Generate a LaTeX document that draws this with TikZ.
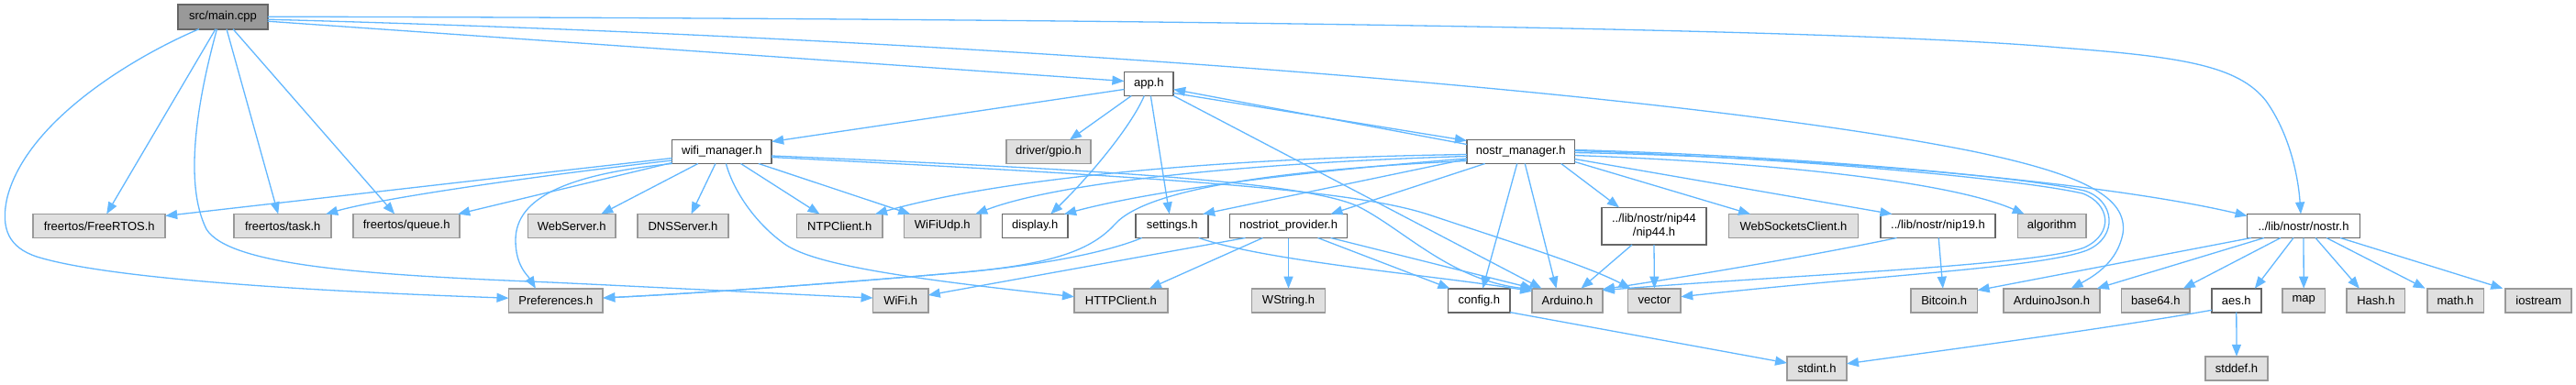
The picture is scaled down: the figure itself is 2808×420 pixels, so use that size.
\documentclass[tikz,border=0pt]{standalone}
\usepackage{fontspec}
\setmainfont{Liberation Sans}
\usetikzlibrary{arrows.meta}
\definecolor{edgec}{HTML}{63B8FF}
\definecolor{extfill}{HTML}{E0E0E0}
\definecolor{extdraw}{HTML}{999999}
\definecolor{intdraw}{HTML}{666666}
\definecolor{rootfill}{HTML}{999999}
\begin{document}
\begin{tikzpicture}[x=1pt,y=-1pt,
  box/.style={rectangle, inner sep=0pt, outer sep=0pt, minimum height=26pt, line width=1.7pt, font=\fontsize{13}{15}\selectfont, text=black, align=center},
  ext/.style={box, draw=extdraw, fill=extfill},
  int/.style={box, draw=intdraw, fill=white},
  root/.style={box, draw=intdraw, fill=rootfill},
  edge/.style={draw=edgec, line width=1.3pt, -{Triangle[length=13pt,width=10pt]}},
]
\useasboundingbox[fill=white] (0,0) rectangle (2808,420);

% row 0 - 2
\node[root, minimum width=97.5pt, minimum height=27pt] (main) at (243,18.2) {src/main.cpp};
\node[int, minimum width=53.8pt] (app) at (1252.3,91.5) {app.h};
\node[int, minimum width=108.6pt] (wifi) at (786.9,165.5) {wifi\_manager.h};
\node[ext, minimum width=92.4pt] (gpio) at (1143,165.5) {driver/gpio.h};
\node[int, minimum width=117.6pt] (nmgr) at (1657.7,165.5) {nostr\_manager.h};
% row 3
\node[ext, minimum width=144pt] (freertos) at (108.2,246.5) {freertos/FreeRTOS.h};
\node[ext, minimum width=106pt] (task) at (308.2,246.5) {freertos/task.h};
\node[ext, minimum width=115.8pt] (queue) at (443.2,246.5) {freertos/queue.h};
\node[ext, minimum width=95.7pt] (websrv) at (623.2,246.5) {WebServer.h};
\node[ext, minimum width=98.9pt] (dns) at (744.5,246.5) {DNSServer.h};
\node[ext, minimum width=93.6pt] (ntp) at (915.2,246.5) {NTPClient.h};
\node[ext, minimum width=83.9pt] (udp) at (1027.3,246.5) {WiFiUdp.h};
\node[int, minimum width=71.6pt] (display) at (1128.3,246.5) {display.h};
\node[int, minimum width=78.9pt] (settings) at (1277.7,246.5) {settings.h};
\node[int, minimum width=128pt] (provider) at (1404.5,246.5) {nostriot\_provider.h};
\node[int, minimum width=114.3pt, minimum height=40.7pt] (nip44) at (1803,246.7) {../lib/nostr/nip44\\/nip44.h};
\node[ext, minimum width=140.8pt] (wsc) at (1955,246.5) {WebSocketsClient.h};
\node[int, minimum width=125.4pt] (nip19) at (2112.5,246.5) {../lib/nostr/nip19.h};
\node[ext, minimum width=74.7pt] (algo) at (2236.7,246.5) {algorithm};
\node[int, minimum width=122.9pt] (nostr) at (2511,246.5) {../lib/nostr/nostr.h};
% row 4
\node[ext, minimum width=102.8pt] (prefs) at (605.9,327.7) {Preferences.h};
\node[ext, minimum width=60.2pt] (wifih) at (981.7,327.7) {WiFi.h};
\node[ext, minimum width=101.8pt] (http) at (1221.9,327.7) {HTTPClient.h};
\node[ext, minimum width=80pt] (wstring) at (1404.5,327.7) {WString.h};
\node[int, minimum width=67.7pt] (config) at (1612.3,327.7) {config.h};
\node[ext, minimum width=76.7pt] (arduino) at (1708.5,327.7) {Arduino.h};
\node[ext, minimum width=57.7pt] (vector) at (1803.4,327.7) {vector};
\node[ext, minimum width=72.8pt] (bitcoin) at (2119.2,327.7) {Bitcoin.h};
\node[ext, minimum width=104.5pt] (ajson) at (2236.5,327.7) {ArduinoJson.h};
\node[ext, minimum width=74.9pt] (base64) at (2349.8,327.7) {base64.h};
\node[int, minimum width=53.8pt] (aes) at (2437.8,327.7) {aes.h};
\node[ext, minimum width=46.6pt] (map) at (2511.2,327.7) {map};
\node[ext, minimum width=63.4pt] (hash) at (2589.9,327.7) {Hash.h};
\node[ext, minimum width=61.7pt] (math) at (2676.5,327.7) {math.h};
\node[ext, minimum width=72pt] (iostream) at (2767.3,327.7) {iostream};
% row 5
\node[ext, minimum width=64.9pt] (stdint) at (1980.5,401.8) {stdint.h};
\node[ext, minimum width=68.5pt] (stddef) at (2438,401.8) {stddef.h};

% ---- edges from main
\draw[edge] ([xshift=-8pt]main.south) -- ([xshift=8pt]freertos.north);
\draw[edge] ([xshift=4pt]main.south) -- ([xshift=-5pt]task.north);
\draw[edge] ([xshift=11pt]main.south) -- ([xshift=-13pt]queue.north);
\draw[edge] ([xshift=-26pt]main.south) .. controls (150,60) and (30,130) .. (8,215) .. controls (0,250) and (10,270) .. (40,280) .. controls (120,305) and (350,318) .. ([yshift=2.5pt]prefs.west);
\draw[edge] ([xshift=-6.5pt]main.south) .. controls (215,110) and (200,200) .. (225,250) .. controls (250,290) and (400,300) .. (600,308) .. controls (750,315) and (880,322) .. ([yshift=2.7pt]wifih.west);
\draw[edge] ([yshift=-5pt]main.east) -- ([yshift=3pt]app.west);
\draw[edge] (main.east) .. controls (1200,20) and (2000,30) .. (2246,52) .. controls (2380,62) and (2440,72) .. (2470,110) .. controls (2495,145) and (2505,190) .. ([xshift=-3pt]nostr.north);
\draw[edge] ([yshift=-3pt]main.east) .. controls (1000,40) and (1800,95) .. (2150,165) .. controls (2270,190) and (2320,215) .. (2314,255) .. controls (2308,285) and (2285,300) .. ([xshift=21pt]ajson.north);

% ---- edges from app
\draw[edge] ([yshift=-6pt]app.west) -- ([yshift=11pt]wifi.east);
\draw[edge] ([xshift=-19pt]app.south) -- ([xshift=23pt]gpio.north);
\draw[edge] ([xshift=-5pt]app.south) .. controls (1232,140) and (1185,195) .. ([xshift=17pt]display.north);
\draw[edge] ([xshift=2pt]app.south) -- ([xshift=-3pt]settings.north);
\draw[edge] ([yshift=-10pt]app.east) -- ([yshift=12pt]nmgr.west);
\draw[edge] ([yshift=8pt]nmgr.west) -- ([yshift=-6pt]app.east);
\draw[edge] (app.south east) -- ([xshift=-28pt]arduino.north);

% ---- edges from wifi_manager
\draw[edge] ([yshift=-7pt]wifi.west) -- ([yshift=11pt]freertos.east);
\draw[edge] ([yshift=-9.5pt]wifi.west) .. controls (600,190) and (420,215) .. ([xshift=47pt]task.north);
\draw[edge] ([yshift=-12pt]wifi.west) -- ([xshift=56pt]queue.north);
\draw[edge] (wifi.south west) .. controls (620,190) and (562,215) .. (562,262) .. controls (562,290) and (575,300) .. ([xshift=-22pt]prefs.north);
\draw[edge] ([xshift=-26pt]wifi.south) -- ([xshift=32pt]websrv.north);
\draw[edge] ([xshift=-7pt]wifi.south) -- ([xshift=9pt]dns.north);
\draw[edge] ([xshift=20.6pt]wifi.south) -- ([xshift=-21.7pt]ntp.north);
\draw[edge] ([xshift=40pt]wifi.south) -- ([xshift=-35pt]udp.north);
\draw[edge] ([xshift=4.5pt]wifi.south) .. controls (800,210) and (825,245) .. (856,266.7) .. controls (890,290) and (1000,305) .. ([yshift=4pt]http.west);
\draw[edge] ([yshift=-4.5pt]wifi.east) .. controls (1200,185) and (1420,198) .. (1480,225) .. controls (1530,250) and (1580,305) .. ([yshift=12pt]arduino.west);
\draw[edge] ([yshift=-6pt]wifi.east) .. controls (1300,195) and (1480,208) .. (1560,235) .. controls (1650,265) and (1730,290) .. ([xshift=3pt]vector.north west);

% ---- edges from nostr_manager
\draw[edge] ([yshift=-3pt]nmgr.west) .. controls (1350,172) and (1100,192) .. ([xshift=-8pt]ntp.north east);
\draw[edge] ([yshift=-5pt]nmgr.west) .. controls (1350,178) and (1150,200) .. ([xshift=-6pt]udp.north east);
\draw[edge] ([yshift=-7.5pt]nmgr.west) .. controls (1380,190) and (1240,212) .. ([xshift=-4pt]display.north east);
\draw[edge] ([yshift=-10pt]nmgr.west) .. controls (1400,185) and (1250,205) .. (1215,245) .. controls (1190,272) and (1150,288) .. (1050,297) .. controls (900,310) and (760,320) .. ([yshift=2.7pt]prefs.east);
\draw[edge] ([yshift=-8pt]nmgr.west) -- ([xshift=-6pt]settings.north east);
\draw[edge] ([xshift=-39pt]nmgr.south) -- ([xshift=-18pt]provider.north east);
\draw[edge] ([xshift=-4pt]nmgr.south) -- ([xshift=4pt]config.north);
\draw[edge] ([xshift=4.6pt]nmgr.south) -- ([xshift=-12pt]arduino.north);
\draw[edge] ([xshift=44pt]nmgr.south) -- ([xshift=-38pt]nip44.north);
\draw[edge] ([yshift=-11pt]nmgr.east) -- ([xshift=-47pt]wsc.north);
\draw[edge] ([yshift=-8pt]nmgr.east) -- ([xshift=-50pt]nip19.north);
\draw[edge] ([yshift=-4pt]nmgr.east) .. controls (1950,178) and (2130,200) .. ([xshift=-30pt]algo.north);
\draw[edge] ([yshift=-1pt]nmgr.east) .. controls (2000,172) and (2300,200) .. ([yshift=11pt]nostr.west);
\draw[edge] ([yshift=2pt]nmgr.east) .. controls (1950,170) and (2200,192) .. (2272,208) .. controls (2305,218) and (2310,258) .. (2275,273) .. controls (2225,292) and (2050,300) .. ([yshift=4pt]vector.east);
\draw[edge] ([yshift=1pt]nmgr.east) .. controls (1950,172) and (2200,195) .. (2270,211) .. controls (2300,222) and (2305,255) .. (2272,270) .. controls (2220,290) and (1950,300) .. ([yshift=11pt]arduino.east);

% ---- settings
\draw[edge] ([xshift=-33pt]settings.south) .. controls (1215,272) and (1150,288) .. (1050,297) .. controls (900,310) and (760,320) .. ([yshift=2.7pt]prefs.east);
\draw[edge] ([xshift=29pt]settings.south) .. controls (1380,285) and (1560,300) .. ([yshift=10pt]arduino.west);

% ---- nostriot_provider
\draw[edge] ([xshift=-47pt]provider.south) -- ([yshift=5.7pt]wifih.east);
\draw[edge] ([xshift=-28pt]provider.south) -- ([xshift=31pt]http.north);
\draw[edge] (provider.south) -- (wstring.north);
\draw[edge] ([xshift=32pt]provider.south) -- ([xshift=2pt]config.north west);
\draw[edge] ([xshift=46pt]provider.south) -- ([xshift=1pt]arduino.north west);

% ---- nip44, nip19
\draw[edge] ([xshift=-24pt]nip44.south) -- ([xshift=15pt]arduino.north);
\draw[edge] (nip44.south) -- (vector.north);
\draw[edge] ([xshift=-45pt]nip19.south) .. controls (1980,278) and (1850,300) .. ([yshift=12pt]arduino.east);
\draw[edge] ([xshift=0.7pt]nip19.south) -- ([xshift=-1.3pt]bitcoin.north);

% ---- config, aes
\draw[edge] (config.south east) -- ([yshift=5.8pt]stdint.west);
\draw[edge] ([yshift=-10.6pt]aes.west) .. controls (2300,358) and (2120,382) .. ([yshift=5pt]stdint.east);
\draw[edge] (aes.south) -- (stddef.north);

% ---- nostr.h
\draw[edge] ([xshift=-57pt]nostr.south) -- ([yshift=11pt]bitcoin.east);
\draw[edge] ([xshift=-43pt]nostr.south) -- ([xshift=-3pt]ajson.north east);
\draw[edge] ([xshift=-25pt]nostr.south) -- ([xshift=30pt]base64.north);
\draw[edge] ([xshift=-11pt]nostr.south) -- ([xshift=20pt]aes.north);
\draw[edge] (nostr.south) -- (map.north);
\draw[edge] ([xshift=13pt]nostr.south) -- ([xshift=-18pt]hash.north);
\draw[edge] ([xshift=25pt]nostr.south) -- ([xshift=-2pt]math.north west);
\draw[edge] ([xshift=40pt]nostr.south) -- ([xshift=-3pt]iostream.north west);
\end{tikzpicture}
\end{document}
